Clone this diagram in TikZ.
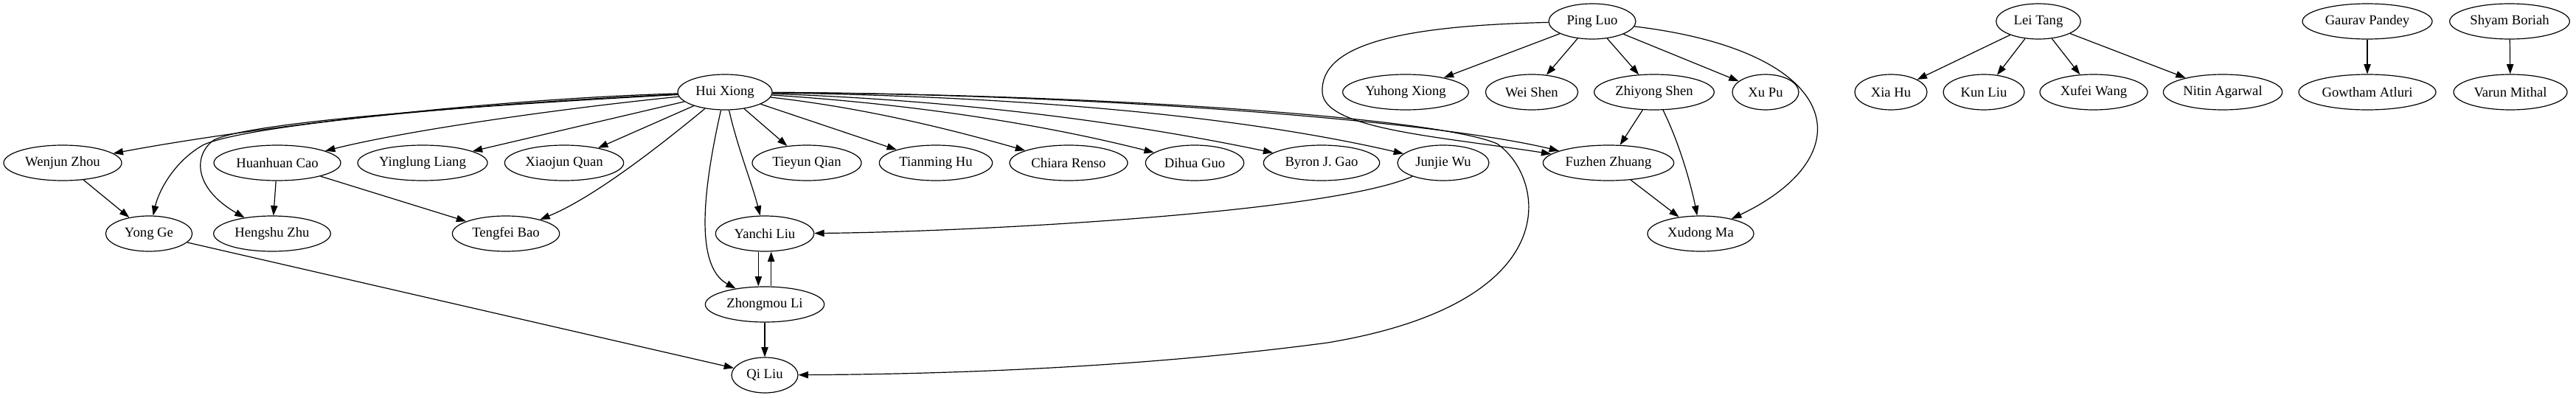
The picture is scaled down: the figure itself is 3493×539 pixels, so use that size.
\documentclass[tikz,border=0pt]{standalone}
\usepackage{fontspec}
\setmainfont{Liberation Serif}
\usetikzlibrary{shapes.geometric,arrows.meta}
\tikzset{
  pn/.style={draw, ellipse, line width=0.9pt, inner sep=0pt, minimum height=36pt, font=\fontsize{14}{16}\selectfont},
  arr/.style={-{Triangle[length=10pt,width=7pt]}, line width=0.9pt}
}
\begin{document}
\begin{tikzpicture}[x=0.75pt,y=-0.75pt]
\useasboundingbox (0,0) rectangle (3493,539);
% rank 0
\node[pn, minimum width=88.5pt] (pl) at (2159,29) {Ping Luo};
\node[pn, minimum width=86pt] (lt) at (2764,29) {Lei Tang};
\node[pn, minimum width=132pt] (gp) at (3210,29) {Gaurav Pandey};
\node[pn, minimum width=122pt] (sb) at (3403,29) {Shyam Boriah};
% rank 1
\node[pn, minimum width=96pt] (hx) at (983,125) {Hui Xiong};
\node[pn, minimum width=128pt] (yx) at (1906,125) {Yuhong Xiong};
\node[pn, minimum width=94pt] (ws) at (2077,125) {Wei Shen};
\node[pn, minimum width=122pt] (zs) at (2243,125) {Zhiyong Shen};
\node[pn, minimum width=67.5pt] (xp) at (2394,125) {Xu Pu};
\node[pn, minimum width=73.5pt] (xh) at (2564,125) {Xia Hu};
\node[pn, minimum width=82.5pt] (kl) at (2690,125) {Kun Liu};
\node[pn, minimum width=109.5pt] (xw) at (2839,125) {Xufei Wang};
\node[pn, minimum width=121pt] (na) at (3014,125) {Nitin Agarwal};
\node[pn, minimum width=139.5pt] (ga) at (3210,125) {Gowtham Atluri};
\node[pn, minimum width=115.5pt] (vm) at (3404,125) {Varun Mithal};
% rank 2
\node[pn, minimum width=120pt] (wz) at (85,221) {Wenjun Zhou};
\node[pn, minimum width=129pt] (hc) at (376,221) {Huanhuan Cao};
\node[pn, minimum width=132pt] (ylg) at (573,221) {Yinglung Liang};
\node[pn, minimum width=121pt] (xq) at (765,221) {Xiaojun Quan};
\node[pn, minimum width=111pt] (tq) at (1094,221) {Tieyun Qian};
\node[pn, minimum width=115pt] (th) at (1269,221) {Tianming Hu};
\node[pn, minimum width=120pt] (cr) at (1449,221) {Chiara Renso};
\node[pn, minimum width=100pt] (dg) at (1620,221) {Dihua Guo};
\node[pn, minimum width=118pt] (bg) at (1792,221) {Byron J. Gao};
\node[pn, minimum width=93pt] (jw) at (1957,221) {Junjie Wu};
\node[pn, minimum width=133pt] (fz) at (2181,221) {Fuzhen Zhuang};
% rank 3
\node[pn, minimum width=88pt] (yg) at (202,317) {Yong Ge};
\node[pn, minimum width=119pt] (hz) at (369,317) {Hengshu Zhu};
\node[pn, minimum width=109pt] (tb) at (686,317) {Tengfei Bao};
\node[pn, minimum width=100pt] (ycl) at (1037,317) {Yanchi Liu};
\node[pn, minimum width=108pt] (xm) at (2306,317) {Xudong Ma};
% rank 4, 5
\node[pn, minimum width=121pt] (zl) at (1037,413) {Zhongmou Li};
\node[pn, minimum width=67.5pt] (ql) at (1037,509) {Qi Liu};

% Hui Xiong edges
\draw[arr] (hx) .. controls (650,135) and (330,175) .. (wz);
\draw[arr] (hx) .. controls (650,140) and (330,170) .. (275,197) .. controls (235,220) and (215,260) .. (yg);
\draw[arr] (hx) .. controls (650,143) and (340,165) .. (290,190) .. controls (262,210) and (262,255) .. (hz);
\draw[arr] (hx) .. controls (780,145) and (560,175) .. (hc);
\draw[arr] (hx) -- (ylg);
\draw[arr] (hx) -- (xq);
\draw[arr] (hx) .. controls (880,210) and (800,270) .. (tb);
\draw[arr] (hx) .. controls (955,250) and (940,360) .. (zl);
\draw[arr] (hx) .. controls (1000,200) and (1020,250) .. (ycl);
\draw[arr] (hx) -- (tq);
\draw[arr] (hx) -- (th);
\draw[arr] (hx) .. controls (1160,145) and (1270,170) .. (cr);
\draw[arr] (hx) .. controls (1220,140) and (1400,165) .. (dg);
\draw[arr] (hx) .. controls (1270,135) and (1500,160) .. (bg);
\draw[arr] (hx) .. controls (1330,130) and (1650,150) .. (jw);
\draw[arr] (hx) .. controls (1500,128) and (1950,165) .. (fz);
\draw[arr] (hx) .. controls (1500,128) and (1950,160) .. (2030,195) .. controls (2095,240) and (2130,410) .. (1800,465) .. controls (1500,505) and (1200,508) .. (ql);

% other edges
\draw[arr] (wz) -- (yg);
\draw[arr] (hc) -- (hz);
\draw[arr] (hc) -- (tb);
\draw[arr] (jw) .. controls (1800,290) and (1300,315) .. (ycl);
\draw[arr] ([xshift=-6.5pt]ycl.south) -- ([xshift=-6.5pt]zl.north);
\draw[arr] ([xshift=6.5pt]zl.north) -- ([xshift=6.5pt]ycl.south);
\draw[arr] (zl) -- (ql);
\draw[arr] (yg) -- (ql);

% Ping Luo edges
\draw[arr] (pl) -- (yx);
\draw[arr] (pl) -- (ws);
\draw[arr] (pl) -- (zs);
\draw[arr] (pl) -- (xp);
\draw[arr] (pl) .. controls (2500,70) and (2530,210) .. (xm);
\draw[arr] (pl) .. controls (1900,35) and (1790,60) .. (1793,125) .. controls (1795,175) and (1950,185) .. (fz);
\draw[arr] (zs) -- (fz);
\draw[arr] (zs) .. controls (2280,200) and (2295,260) .. (xm);
\draw[arr] (fz) -- (xm);

% Lei Tang edges
\draw[arr] (lt) -- (xh);
\draw[arr] (lt) -- (kl);
\draw[arr] (lt) -- (xw);
\draw[arr] (lt) -- (na);
\draw[arr] (gp) -- (ga);
\draw[arr] (sb) -- (vm);
\end{tikzpicture}
\end{document}
